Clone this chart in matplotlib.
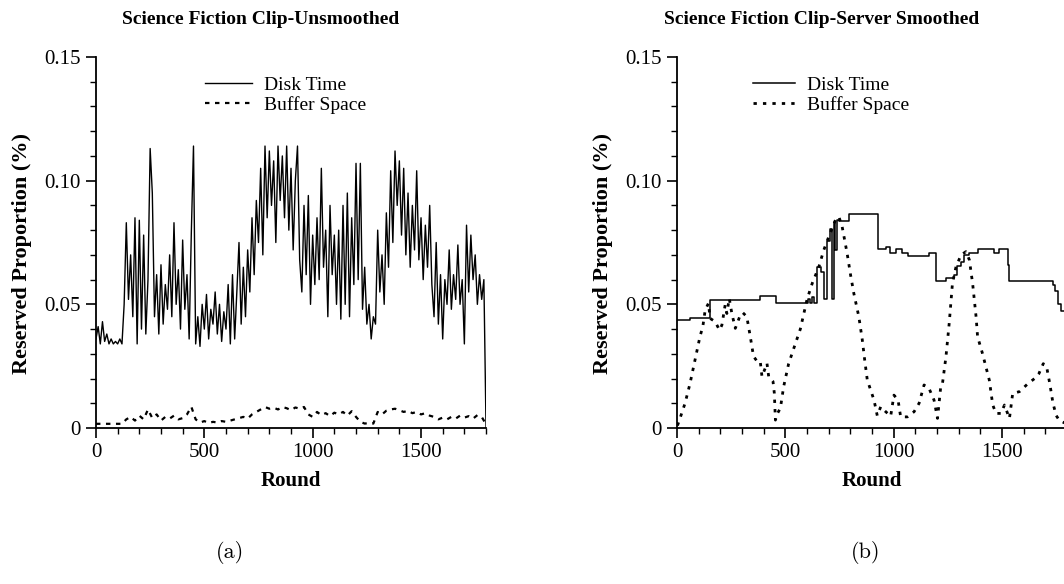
import numpy as np
import matplotlib
matplotlib.use("Agg")
import matplotlib.pyplot as plt
from matplotlib.ticker import MultipleLocator, FixedLocator

plt.rcParams['font.family'] = ['Liberation Serif', 'DejaVu Serif']

# (a) unsmoothed, one value every 10 rounds
disk_a = [
    0.036, 0.041, 0.034, 0.043, 0.035, 0.038, 0.034, 0.036, 0.034, 0.035,
    0.034, 0.036, 0.034, 0.050, 0.083, 0.052, 0.070, 0.045, 0.085, 0.034,
    0.084, 0.040, 0.078, 0.038, 0.060, 0.113, 0.095, 0.045, 0.062, 0.038,
    0.066, 0.042, 0.058, 0.048, 0.070, 0.045, 0.083, 0.050, 0.064, 0.040,
    0.076, 0.048, 0.062, 0.036, 0.079, 0.114, 0.034, 0.045, 0.033, 0.050,
    0.040, 0.054, 0.036, 0.048, 0.042, 0.055, 0.038, 0.050, 0.035, 0.047,
    0.040, 0.058, 0.034, 0.062, 0.036, 0.055, 0.075, 0.042, 0.065, 0.045,
    0.072, 0.055, 0.085, 0.062, 0.092, 0.075, 0.105, 0.070, 0.114, 0.085,
    0.112, 0.090, 0.108, 0.075, 0.114, 0.092, 0.110, 0.085, 0.114, 0.080,
    0.105, 0.072, 0.100, 0.114, 0.068, 0.055, 0.090, 0.062, 0.094, 0.050,
    0.078, 0.058, 0.085, 0.060, 0.105, 0.065, 0.080, 0.045, 0.090, 0.062,
    0.078, 0.050, 0.080, 0.044, 0.090, 0.050, 0.095, 0.045, 0.085, 0.058,
    0.107, 0.060, 0.107, 0.048, 0.065, 0.042, 0.050, 0.036, 0.045, 0.042,
    0.080, 0.055, 0.070, 0.050, 0.087, 0.065, 0.104, 0.075, 0.112, 0.090,
    0.108, 0.078, 0.105, 0.070, 0.095, 0.065, 0.090, 0.072, 0.104, 0.068,
    0.085, 0.060, 0.082, 0.065, 0.090, 0.058, 0.045, 0.075, 0.042, 0.062,
    0.036, 0.060, 0.050, 0.072, 0.048, 0.062, 0.052, 0.074, 0.050, 0.060,
    0.034, 0.082, 0.055, 0.078, 0.060, 0.070, 0.050, 0.062, 0.052, 0.060,
    0.0,
]
rounds_a = np.arange(len(disk_a)) * 10

# buffer, one value every 20 rounds
buffer_a = [
    0.0017, 0.0017, 0.0017, 0.0017, 0.0017, 0.0017, 0.0017, 0.0035, 0.0045, 0.0030,
    0.0050, 0.0035, 0.0075, 0.0040, 0.0055, 0.0030, 0.0045, 0.0038, 0.0050, 0.0035,
    0.0040, 0.0055, 0.0086, 0.0035, 0.0022, 0.0028, 0.0020, 0.0025, 0.0022, 0.0028,
    0.0025, 0.0030, 0.0035, 0.0040, 0.0045, 0.0038, 0.0055, 0.0065, 0.0075, 0.0085,
    0.0078, 0.0082, 0.0075, 0.0085, 0.0080, 0.0072, 0.0083, 0.0078, 0.0085, 0.0055,
    0.0045, 0.0065, 0.0052, 0.0060, 0.0048, 0.0062, 0.0055, 0.0065, 0.0050, 0.0068,
    0.0045, 0.0025, 0.0018, 0.0020, 0.0018, 0.0065, 0.0055, 0.0070, 0.0075, 0.0078,
    0.0072, 0.0065, 0.0070, 0.0060, 0.0065, 0.0055, 0.0060, 0.0050, 0.0045, 0.0035,
    0.0042, 0.0035, 0.0045, 0.0038, 0.0050, 0.0042, 0.0048, 0.0038, 0.0052, 0.0045,
    0.0015,
]
rounds_buf_a = np.arange(len(buffer_a)) * 20

# (b) server smoothed, disk time is a step function
rounds_disk_b = [0, 60, 150, 385, 455, 605, 612, 625, 632, 645, 665, 677, 693,
                 708, 716, 724, 731, 739, 747, 793, 927, 963, 983, 1012, 1040,
                 1066, 1163, 1194, 1241, 1279, 1294, 1310, 1325, 1349, 1387,
                 1464, 1487, 1526, 1534, 1735, 1742, 1758, 1773, 1795]
disk_b = [0.0437, 0.0444, 0.0517, 0.0535, 0.0504, 0.0520, 0.0504, 0.0530,
          0.0504, 0.0650, 0.0630, 0.0520, 0.0755, 0.0805, 0.0520, 0.0834,
          0.0720, 0.0840, 0.0838, 0.0865, 0.0725, 0.0730, 0.0706, 0.0725,
          0.0706, 0.0695, 0.0706, 0.0594, 0.0608, 0.0620, 0.0655, 0.0670,
          0.0700, 0.0706, 0.0725, 0.0706, 0.0725, 0.0660, 0.0595, 0.0580,
          0.0555, 0.0500, 0.0475, 0.0]

rounds_buf_b = [2, 11, 37, 60, 83, 106, 119, 130, 145, 153, 176, 196, 207, 222,
                230, 241, 253, 269, 292, 304, 322, 338, 353, 369, 384, 392, 407,
                415, 423, 443, 449, 454, 464, 477, 492, 515, 538, 569, 600, 624,
                654, 677, 700, 716, 731, 747, 762, 785, 801, 816, 839, 855, 866,
                878, 909, 924, 940, 963, 986, 1001, 1020, 1032, 1063, 1094, 1117,
                1140, 1163, 1186, 1202, 1217, 1225, 1241, 1256, 1271, 1287, 1310,
                1333, 1349, 1364, 1380, 1387, 1410, 1441, 1457, 1472, 1495, 1511,
                1534, 1549, 1580, 1620, 1650, 1670, 1690, 1705, 1720, 1735, 1750,
                1765, 1790]
buffer_b = [0.0010, 0.0032, 0.0100, 0.0180, 0.0275, 0.0370, 0.0410, 0.0477,
            0.0504, 0.0443, 0.0430, 0.0396, 0.0416, 0.0497, 0.0463, 0.0524,
            0.0463, 0.0403, 0.0457, 0.0466, 0.0450, 0.0370, 0.0290, 0.0270,
            0.0270, 0.0208, 0.0242, 0.0262, 0.0208, 0.0188, 0.0141, 0.0032,
            0.0060, 0.0080, 0.0167, 0.0260, 0.0320, 0.0400, 0.0520, 0.0585,
            0.0650, 0.0719, 0.0773, 0.0807, 0.0841, 0.0854, 0.0814, 0.0706,
            0.0618, 0.0544, 0.0450, 0.0356, 0.0275, 0.0194, 0.0113, 0.0050,
            0.0086, 0.0066, 0.0048, 0.0133, 0.0113, 0.0045, 0.0045, 0.0066,
            0.0100, 0.0174, 0.0160, 0.0113, 0.0039, 0.0167, 0.0180, 0.0288,
            0.0423, 0.0585, 0.0650, 0.0699, 0.0713, 0.0680, 0.0585, 0.0450,
            0.0369, 0.0300, 0.0194, 0.0093, 0.0059, 0.0059, 0.0093, 0.0039,
            0.0140, 0.0147, 0.0180, 0.0200, 0.0220, 0.0260, 0.0250, 0.0180,
            0.0100, 0.0050, 0.0030, 0.0020]

titles = ["Science Fiction Clip-Unsmoothed", "Science Fiction Clip-Server Smoothed"]
sub_labels = ["(a)", "(b)"]

fig = plt.figure(figsize=(10.64, 5.84), dpi=100)
ax1 = fig.add_axes([0.0902, 0.2671, 0.3666, 0.6353])
ax2 = fig.add_axes([0.6363, 0.2671, 0.3666, 0.6353])

ax1.plot(rounds_a, disk_a, color='black', lw=1.0, label='Disk Time')
ax1.plot(rounds_buf_a, buffer_a, color='black', lw=1.6, ls=(0, (2, 2.5)),
         label='Buffer Space')

ax2.step(rounds_disk_b, disk_b, where='post', color='black', lw=1.1,
         label='Disk Time')
ax2.plot(rounds_buf_b, buffer_b, color='black', lw=2.0, ls=(0, (1.2, 2.2)),
         label='Buffer Space')

for ax, leg_x, hl in [(ax1, 0.279, 2.45), (ax2, 0.195, 2.15)]:
    ax.set_xlim(0, 1800)
    ax.set_ylim(0, 0.15)
    ax.spines['top'].set_visible(False)
    ax.spines['right'].set_visible(False)
    ax.spines['left'].set_linewidth(1.3)
    ax.spines['bottom'].set_linewidth(1.3)
    ax.xaxis.set_major_locator(FixedLocator([0, 500, 1000, 1500]))
    ax.xaxis.set_minor_locator(MultipleLocator(100))
    ax.yaxis.set_major_locator(FixedLocator([0, 0.05, 0.10, 0.15]))
    ax.yaxis.set_minor_locator(MultipleLocator(0.01))
    ax.set_yticklabels(['0', '0.05', '0.10', '0.15'])
    ax.tick_params(which='major', direction='out', length=7, width=1.2,
                   labelsize=15, pad=4)
    ax.tick_params(which='minor', direction='out', length=4, width=1.0)
    ax.set_xlabel('Round', fontsize=15, fontweight='bold', labelpad=6)
    ax.set_ylabel('Reserved Proportion (%)', fontsize=16, fontweight='bold')
    ax.yaxis.set_label_coords(-0.165, 0.47)
    ax.legend(loc='upper left', bbox_to_anchor=(leg_x, 0.948), frameon=False,
              fontsize=14, handlelength=hl, borderpad=0, borderaxespad=0,
              labelspacing=0.1, handletextpad=0.6)

fig.text(261 / 1064, 1 - 20 / 584, titles[0], ha='center', va='center',
         fontsize=14, fontweight='bold')
fig.text(822 / 1064, 1 - 20 / 584, titles[1], ha='center', va='center',
         fontsize=14, fontweight='bold')
fig.text(230 / 1064, 1 - 553 / 584, sub_labels[0], ha='center', va='center',
         fontsize=16, family=['cmr10', 'DejaVu Serif'])
fig.text(866 / 1064, 1 - 553 / 584, sub_labels[1], ha='center', va='center',
         fontsize=16, family=['cmr10', 'DejaVu Serif'])

fig.savefig('out.png', dpi=100)
